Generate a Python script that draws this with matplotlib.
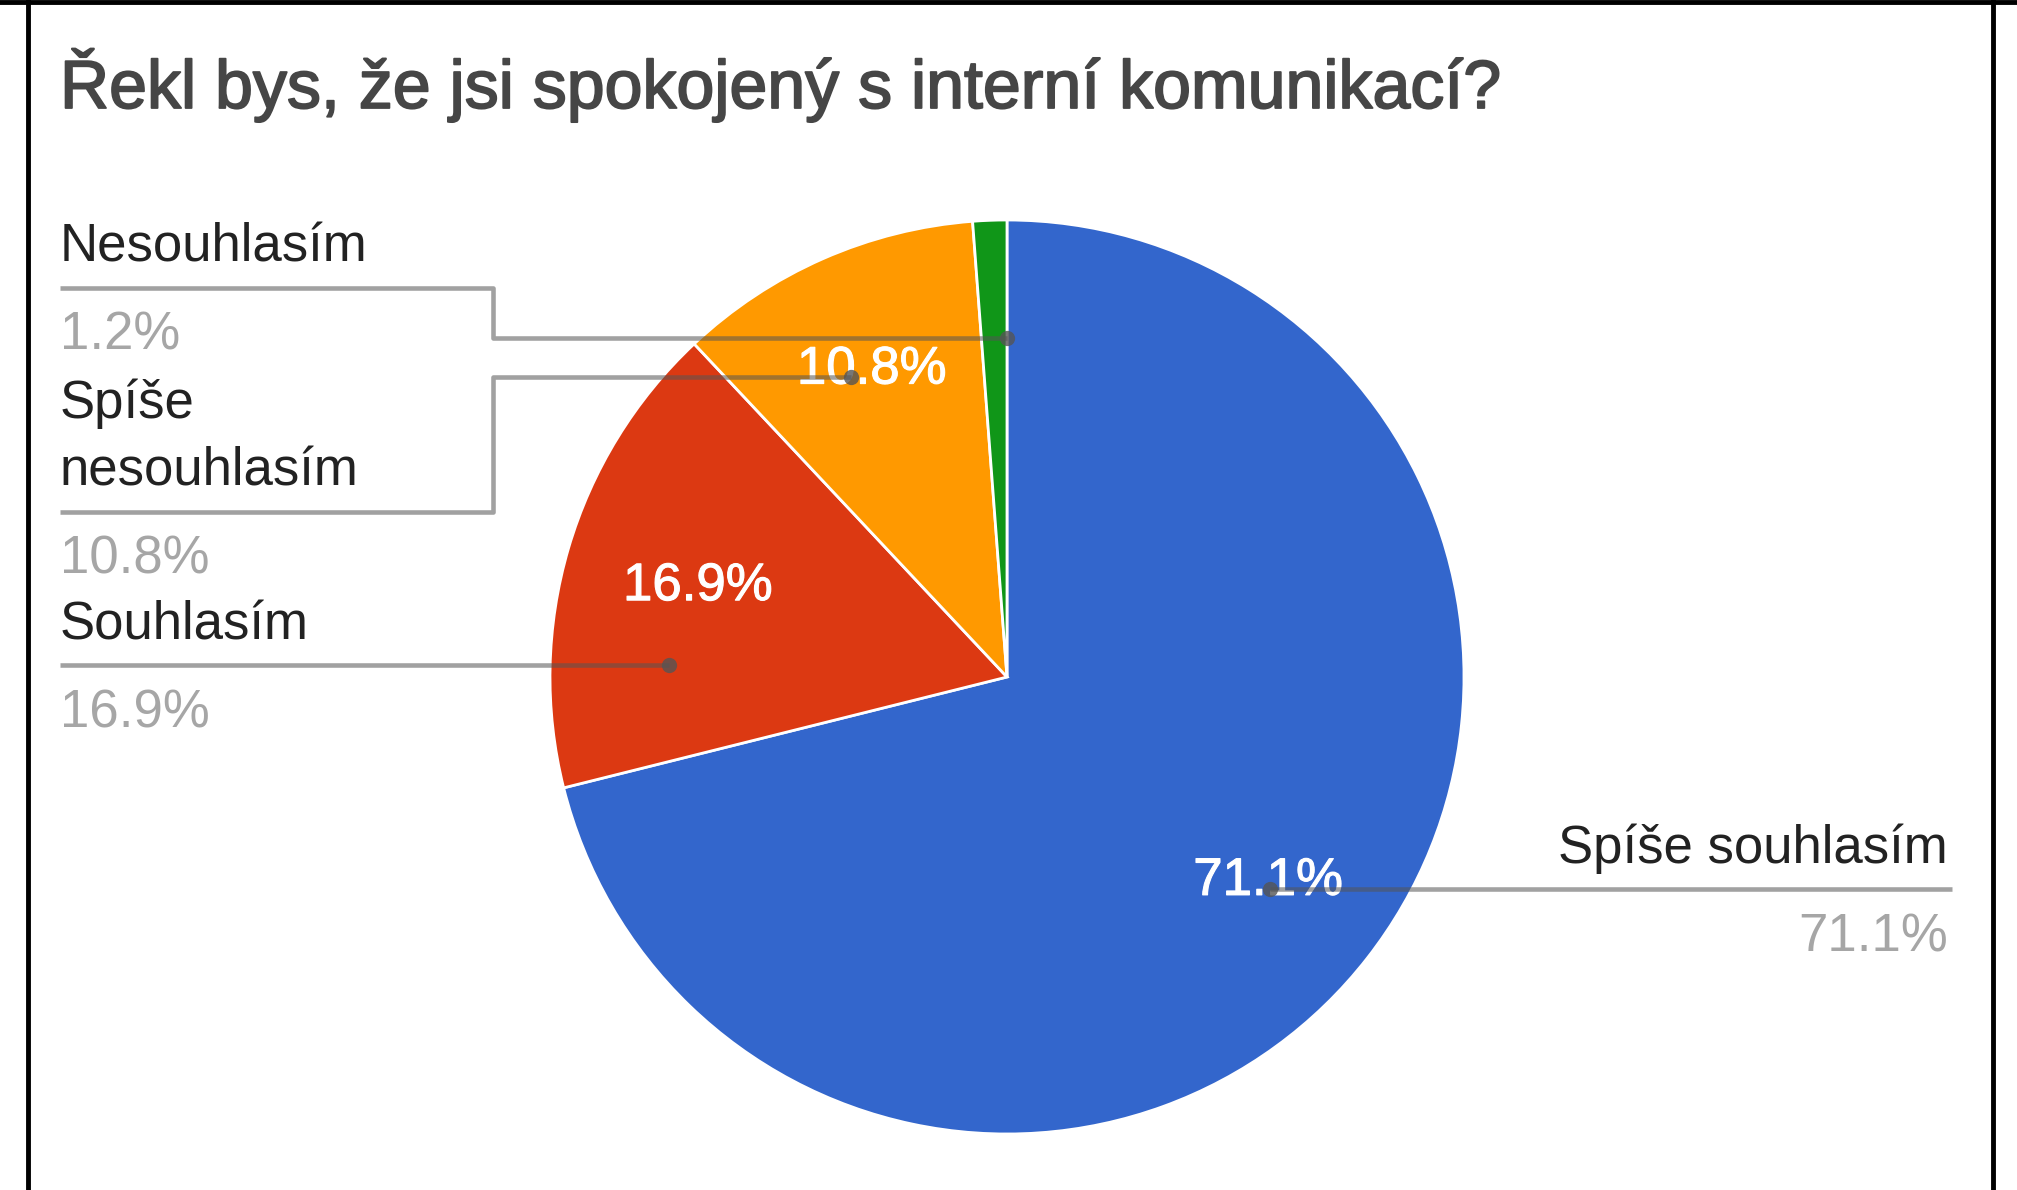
import textwrap
import matplotlib
matplotlib.use('Agg')
import matplotlib.pyplot as plt
import matplotlib.patheffects as pe
import numpy as np

plt.rcParams['font.family'] = ['Liberation Sans', 'DejaVu Sans']

# data
title = 'Řekl bys, že jsi spokojený s interní komunikací?'
categories = ['Spíše souhlasím', 'Souhlasím', 'Spíše nesouhlasím', 'Nesouhlasím']
values = [71.1, 16.9, 10.8, 1.2]
colors = ['#3366cc', '#dc3912', '#ff9900', '#109618']

# layout (pixels, measured from top-left corner of the image)
W, H = 2017, 1190
cx, cy, rad = 1007, 677, 457
side = ['right', 'left', 'left', 'left']
line_y = [889, 665, 512, 288]          # y of the line under each label
dot_y = [889, 665, 377, 338]           # y where the leader meets the slice
pct_dist = [0.725, 0.705, 0.735, 0.73]  # in-slice label distance (x radius)
left_x, elbow_x = 60, 493
right_x = 1948
dot_frac = 0.74
fs = 38          # ~53 px
fs_title = 49    # ~68 px


def Y(y):
    return H - y


fig = plt.figure(figsize=(W/100, H/100), dpi=100)
ax = fig.add_axes([0, 0, 1, 1])

wedges, texts, autotexts = ax.pie(
    values, colors=colors, startangle=90, counterclock=False,
    center=(cx, Y(cy)), radius=rad,
    autopct=lambda p: '%.1f%%' % p if p > 5 else '', pctdistance=0.73,
    textprops=dict(color='white', fontsize=fs),
    wedgeprops=dict(edgecolor='white', linewidth=2))

# put the in-slice percentages where the reference has them
for w, t, d in zip(wedges, autotexts, pct_dist):
    ang = np.deg2rad((w.theta1 + w.theta2) / 2)
    t.set_position((cx + d*rad*np.cos(ang), Y(cy) + d*rad*np.sin(ang)))
    t.set_path_effects([pe.withStroke(linewidth=0.8, foreground='white')])

ax.set_xlim(0, W)
ax.set_ylim(0, H)
ax.set_aspect('auto')
ax.axis('off')

lc = dict(color='#555555', alpha=0.55, lw=3.3, solid_capstyle='butt', zorder=5)
dc = dict(marker='o', color='#555555', alpha=0.8, ms=11, mew=0, zorder=6)

for i, name in enumerate(categories):
    ly, dy = line_y[i], dot_y[i]
    r = rad*dot_frac
    dx = np.sqrt(max(r**2 - (cy - dy)**2, 0))
    pct = '%.1f%%' % values[i]
    if side[i] == 'right':
        px = cx + dx
        ax.plot([px, right_x + 4], [Y(ly), Y(ly)], **lc)
        ax.plot(px, Y(dy), **dc)
        ax.text(right_x, Y(ly - 26), name, ha='right', va='baseline',
                fontsize=fs, color='#222222')
        ax.text(right_x, Y(ly + 62), pct, ha='right', va='baseline',
                fontsize=fs, color='#a6a6a6')
    else:
        px = cx - dx
        if ly == dy:
            ax.plot([left_x, px], [Y(ly), Y(ly)], **lc)
        else:
            ax.plot([left_x, elbow_x, elbow_x, px],
                    [Y(ly), Y(ly), Y(dy), Y(dy)], **lc)
        ax.plot(px, Y(dy), **dc)
        lines = textwrap.wrap(name, 12)
        for j, t in enumerate(lines[::-1]):
            ax.text(left_x, Y(ly - 26 - 68*j), t, ha='left', va='baseline',
                    fontsize=fs, color='#222222')
        ax.text(left_x, Y(ly + 62), pct, ha='left', va='baseline',
                fontsize=fs, color='#a6a6a6')

ax.text(left_x, Y(108), title, ha='left', va='baseline',
        fontsize=fs_title, color='#464646',
        path_effects=[pe.withStroke(linewidth=1.3, foreground='#464646')])

# black frame of the screenshot
ax.plot([0, W], [Y(2), Y(2)], color='black', lw=3.5, clip_on=False)
ax.plot([27.5, 27.5], [Y(0), Y(H + 10)], color='black', lw=3.5, clip_on=False)
ax.plot([1993, 1993], [Y(0), Y(H + 10)], color='black', lw=3.5, clip_on=False)

fig.savefig('out.png', dpi=100, facecolor='white')
